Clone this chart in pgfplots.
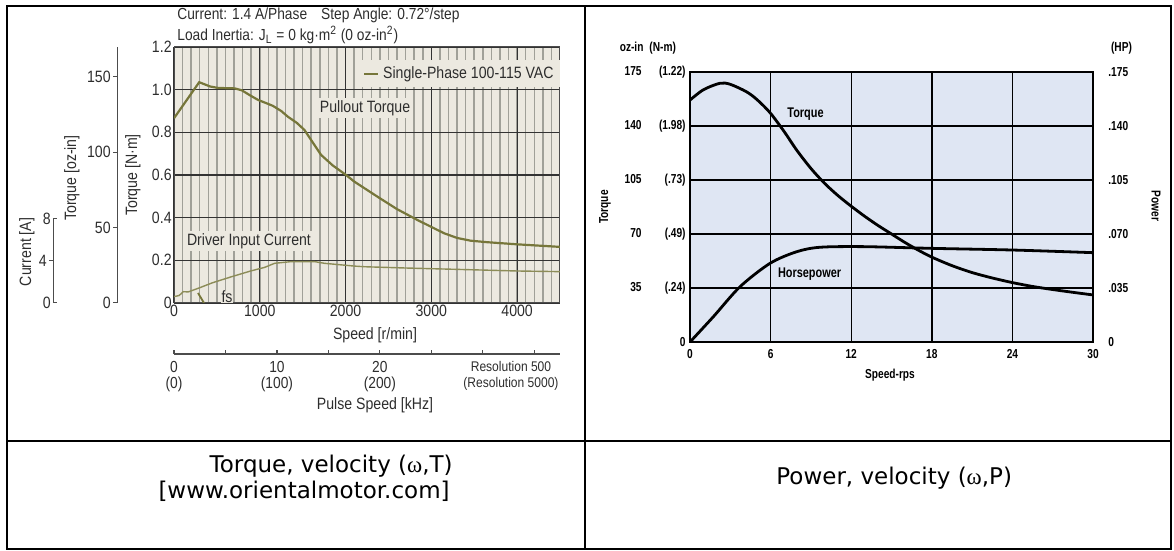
\documentclass[border=0pt]{standalone}
\usepackage{fontspec}
\setmainfont{Liberation Sans}[FakeStretch=0.86]
\newfontfamily\rfont{Liberation Sans}[FakeStretch=0.78]
\newfontfamily\capfont{DejaVu Sans}
\newfontfamily\grk{Liberation Serif}
\usepackage{pgfplots}
\pgfplotsset{compat=1.18}
\definecolor{olive1}{RGB}{118,118,58}
\definecolor{olive2}{RGB}{140,140,88}
\definecolor{bgL}{RGB}{236,233,224}
\definecolor{gridL}{RGB}{160,160,152}
\definecolor{txtL}{RGB}{45,45,45}
\definecolor{bgR}{RGB}{223,230,243}
\newcommand{\fL}{\fontsize{8}{9}\selectfont}
\newcommand{\fT}{\fontsize{8.2}{9}\selectfont}
\newcommand{\fR}{\rfont\bfseries\fontsize{6.5}{7}\selectfont}

\pgfplotstableread{
rpm T
0 0.866
294 1.035
420 1.015
515 1.008
708 1.006
790 0.997
880 0.975
979 0.952
1080 0.936
1153 0.924
1250 0.900
1328 0.873
1430 0.845
1521 0.811
1599 0.764
1715 0.694
1850 0.645
2006 0.600
2102 0.569
2373 0.498
2600 0.440
2838 0.389
2993 0.358
3148 0.327
3300 0.305
3458 0.292
3651 0.285
4000 0.275
4500 0.263
}\pullout

\pgfplotstableread{
rpm I
0 0.030
60 0.035
108 0.053
166 0.052
283 0.069
450 0.095
670 0.123
902 0.151
1057 0.167
1173 0.186
1367 0.194
1638 0.194
1754 0.186
2102 0.173
2218 0.170
2700 0.164
3264 0.158
4000 0.150
4500 0.147
}\current

\pgfplotstableread{
rps T
0 156.8
1 163.5
2.23 167.7
3 167
4.2 162.2
5 157
5.96 148.6
7 136.5
7.94 124.4
9 112.5
10 103
11 95
12 88
13 81.5
14 75.5
15 70
16 64.5
17 59.5
18 55
19.5 49.5
21 45
22.5 41.5
24 38.5
25.5 36
27 34
28.5 32.2
30 30.5
}\torqueR

\pgfplotstableread{
rps HP
0 0
1.74 0.0164
3.72 0.0358
5.96 0.0510
7.94 0.0585
9.68 0.0614
12.9 0.0618
17.95 0.0607
24.07 0.0596
30 0.0579
}\hpR

\begin{document}
\begin{tikzpicture}
\path[use as bounding box] (0,0) rectangle (587pt,275.5pt);

% ---------- left: main torque axis ----------
\begin{axis}[
  at={(87pt,124pt)}, anchor=south west,
  scale only axis, width=193pt, height=128pt,
  xmin=0, xmax=4500, ymin=0, ymax=1.2,
  axis background/.style={fill=bgL},
  xtick={0,1000,2000,3000,4000},
  xticklabels={0,1000,2000,3000,4000},
  minor xtick={100,200,...,4400},
  ytick={0,0.2,0.4,0.6,0.8,1.0,1.2},
  yticklabels={0,0.2,0.4,0.6,0.8,1.0,1.2},
  grid=both,
  minor grid style={draw=gridL, line width=0.75pt},
  major grid style={draw=black!80, line width=0.55pt},
  major tick length=0pt, minor tick length=0pt,
  axis line style={draw=black!70, line width=0.5pt},
  tick label style={font=\fT, text=txtL},
  /pgf/number format/assume math mode=true,
  yticklabel style={inner sep=1pt},
  xticklabel style={inner sep=1pt},
  legend style={at={(rel axis cs:1,0.895)}, anchor=east, fill=bgL, draw=none,
     font=\fontsize{8.2}{9}\selectfont, text=txtL, inner sep=1pt,
     legend cell align=left},
  legend image code/.code={\draw[olive1, line width=1.1pt] (0pt,0pt) -- (7pt,0pt);},
]
\addplot[olive1, line width=1.1pt] table[x=rpm,y=T] {\pullout};
\addlegendentry{Single-Phase 100-115 VAC}
\addplot[olive2, line width=0.7pt, forget plot] table[x=rpm,y=I] {\current};
\addplot[olive1, line width=0.9pt, forget plot] coordinates {(280,0.047) (350,0)};
\node[fill=bgL, inner sep=1pt, text=txtL, font=\fontsize{8.2}{9}\selectfont] at (axis cs:2227,0.914) {Pullout Torque};
\node[fill=bgL, inner sep=1pt, text=txtL, font=\fontsize{8.2}{9}\selectfont] at (axis cs:874,0.291) {Driver Input Current};
\node[fill=bgL, inner sep=0.5pt, text=txtL, font=\fontsize{8.2}{9}\selectfont] at (axis cs:618,0.03) {fs};
\end{axis}

% ---------- left: oz-in axis ----------
\begin{axis}[
  at={(58.5pt,124pt)}, anchor=south west,
  scale only axis, width=1pt, height=128pt,
  xmin=0, xmax=1, ymin=0, ymax=169.9,
  axis x line=none, axis y line=left,
  axis line style={-, draw=black!70, line width=0.5pt},
  ytick={0,50,100,150},
  tick align=outside, major tick length=2pt,
  tick style={black!70, line width=0.5pt},
  tick label style={font=\fT, text=txtL},
  /pgf/number format/assume math mode=true,
  yticklabel style={inner sep=1pt},
]
\addplot[draw=none] coordinates {(0,0)};
\end{axis}

% ---------- left: current axis ----------
\begin{axis}[
  at={(26.5pt,124pt)}, anchor=south west,
  scale only axis, width=1pt, height=42pt,
  xmin=0, xmax=1, ymin=0, ymax=8,
  axis x line=none, axis y line=left,
  axis line style={-, draw=black!70, line width=0.5pt},
  ytick={4},
  extra y ticks={0,8},
  extra y tick style={tick align=inside},
  tick align=outside, major tick length=2pt,
  tick style={black!70, line width=0.5pt},
  tick label style={font=\fT, text=txtL},
  /pgf/number format/assume math mode=true,
  yticklabel style={inner sep=1pt},
]
\addplot[draw=none] coordinates {(0,0)};
\end{axis}

% ---------- left: pulse speed axis ----------
\begin{axis}[
  at={(87pt,98.5pt)}, anchor=south west,
  scale only axis, width=193pt, height=2pt,
  xmin=0, xmax=37.5, ymin=0, ymax=1,
  axis y line=none, axis x line=bottom,
  axis line style={-, draw=black!70, line width=0.6pt},
  xtick={0,5,10,15,20,25,30,35},
  xticklabels={{0\\(0)},,{10\\(100)},,{20\\(200)},,,},
  xticklabel style={align=center, font=\fontsize{8}{8}\selectfont, text=txtL, inner sep=1pt, yshift=-2.5pt},
  tick align=inside, major tick length=2pt,
  tick style={black!70, line width=0.6pt},
  /pgf/number format/assume math mode=true,
]
\addplot[draw=none] coordinates {(0,0)};
\end{axis}

% ---------- right: torque axis ----------
\begin{axis}[
  at={(345pt,104.5pt)}, anchor=south west,
  scale only axis, width=201.5pt, height=135pt,
  xmin=0, xmax=30, ymin=0, ymax=175,
  axis background/.style={fill=bgR},
  xtick={0,6,12,18,24,30},
  ytick={0,35,70,105,140,175},
  yticklabels={{0\hspace{4.5pt}},
    {\makebox[14pt][r]{35}\makebox[22pt][r]{(.24)}},
    {\makebox[14pt][r]{70}\makebox[22pt][r]{(.49)}},
    {\makebox[14pt][r]{105}\makebox[22pt][r]{(.73)}},
    {\makebox[14pt][r]{140}\makebox[22pt][r]{(1.98)}},
    {\makebox[14pt][r]{175}\makebox[22pt][r]{(1.22)}}},
  grid=major,
  major grid style={draw=black, line width=0.7pt},
  major tick length=0pt,
  axis line style={draw=black, line width=0.9pt},
  tick label style={font=\fR},
  yticklabel style={anchor=east, inner sep=0pt, xshift=-2pt},
  xticklabel style={inner sep=1pt, yshift=-2.5pt},
  /pgf/number format/assume math mode=true,
]
\addplot[black, line width=1.4pt, smooth] table[x=rps,y=T] {\torqueR};
\node[font=\rfont\bfseries\fontsize{7}{8}\selectfont] at (axis cs:8.6,148) {Torque};
\node[font=\rfont\bfseries\fontsize{7}{8}\selectfont] at (axis cs:8.9,44) {Horsepower};
\end{axis}

% ---------- right: HP axis ----------
\begin{axis}[
  at={(345pt,104.5pt)}, anchor=south west,
  scale only axis, width=201.5pt, height=135pt,
  xmin=0, xmax=30, ymin=0, ymax=0.175,
  axis x line=none, axis y line*=right,
  axis line style={draw=none},
  ytick={0,0.035,0.07,0.105,0.14,0.175},
  yticklabels={0,.035,.070,.105,.140,.175},
  major tick length=0pt,
  tick label style={font=\fR},
  yticklabel style={anchor=west, inner sep=0pt, xshift=7.5pt},
  /pgf/number format/assume math mode=true,
]
\addplot[black, line width=1.4pt, smooth] table[x=rps,y=HP] {\hpR};
\end{axis}

% ---------- text and table lines (pixel coordinates) ----------
\begin{scope}[shift={(0pt,275.5pt)}, x=0.5pt, y=-0.5pt]
  % table
  \draw[line width=1.1pt] (7,6) rectangle (1171,549);
  \draw[line width=1.1pt] (585,6) -- (585,549);
  \draw[line width=1.1pt] (7,441) -- (1171,441);
  % left chart texts
  \node[anchor=west, inner sep=0pt, font=\fL, text=txtL] at (177,15) {Current: 1.4 A/Phase\hspace{7pt}Step Angle: 0.72°/step};
  \node[anchor=west, inner sep=0pt, font=\fL, text=txtL] at (177,35) {Load Inertia: J\textsubscript{L} = 0 kg·m\textsuperscript{2} (0 oz-in\textsuperscript{2})};
  \node[rotate=90, font=\fT, text=txtL] at (133,175) {Torque [N·m]};
  \node[rotate=90, font=\fT, text=txtL] at (72,178) {Torque [oz-in]};
  \node[rotate=90, font=\fT, text=txtL] at (27,252) {Current [A]};
  \node[font=\fT, text=txtL] at (375,335) {Speed [r/min]};
  \node[font=\fT, text=txtL] at (375,405) {Pulse Speed [kHz]};
  \node[font=\fontsize{7}{8.2}\selectfont, text=txtL, align=center] at (511,376) {Resolution 500\\(Resolution 5000)};
  % right chart texts
  \node[font=\fR, anchor=east] at (683,48) {oz-in\hspace{3pt}(N-m)};
  \node[font=\fR, anchor=west] at (1104,48) {(HP)};
  \node[font=\fR, rotate=90] at (605,207) {Torque};
  \node[font=\fR, rotate=-90] at (1156,206) {Power};
  \node[font=\fR] at (890,375) {Speed-rps};
  % captions
  \node[font=\capfont\fontsize{11.5}{12}\selectfont, anchor=east, inner sep=0pt] at (453,466) {Torque, velocity ({\grk ω},T)};
  \node[font=\capfont\fontsize{11.5}{12}\selectfont, anchor=east, inner sep=0pt] at (450,491) {[www.orientalmotor.com]};
  \node[font=\capfont\fontsize{11.5}{12}\selectfont, anchor=west, inner sep=0pt] at (776,478) {Power, velocity ({\grk ω},P)};
\end{scope}
\end{tikzpicture}
\end{document}
